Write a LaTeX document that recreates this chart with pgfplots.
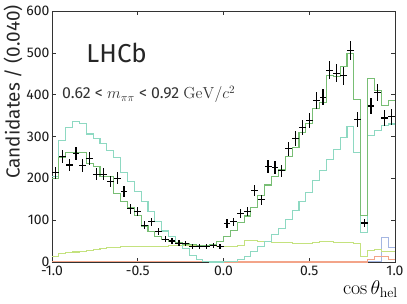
\documentclass[border=0pt]{standalone}
\usepackage{fix-cm}
\usepackage[no-math]{fontspec}
\setmainfont{Fira Sans}
\usepackage{pgfplots}
\pgfplotsset{compat=1.18}
\usepackage{pgfplotstable}
\definecolor{cgreen}{HTML}{78BE74}
\definecolor{ccyan}{HTML}{8ED9C2}
\definecolor{cyel}{HTML}{C4E27E}
\definecolor{cblue}{HTML}{A4B6E2}
\definecolor{cred}{HTML}{F3A489}
\definecolor{frame}{HTML}{333333}

\pgfplotstableread{
x y ey
-0.98 213 14.6
-0.94 252 15.9
-0.90 232 15.2
-0.86 260 16.1
-0.82 230 15.2
-0.78 248 15.7
-0.74 210 14.5
-0.70 210 14.5
-0.66 192 13.9
-0.62 200 14.1
-0.58 168 13.0
-0.54 127 11.3
-0.50 120 11.0
-0.46 88 9.4
-0.42 96 9.8
-0.38 72 8.5
-0.34 54 7.3
-0.30 50 7.1
-0.26 45 6.7
-0.22 44 6.6
-0.18 38 6.2
-0.14 38 6.2
-0.10 37 6.1
-0.06 40 6.3
-0.02 38 6.2
0.02 92 9.6
0.06 96 9.8
0.10 116 10.8
0.14 120 11.0
0.18 170 13.0
0.22 149 12.2
0.26 229 15.1
0.30 226 15.0
0.34 218 14.8
0.38 271 16.5
0.42 295 17.2
0.46 322 17.9
0.50 338 18.4
0.54 386 19.6
0.58 394 19.8
0.62 458 21.4
0.66 451 21.2
0.70 445 21.1
0.74 505 22.5
0.78 341 18.5
0.82 93 9.6
0.86 373 19.3
0.90 405 20.1
0.94 344 18.5
0.98 347 18.6
}\datatab

\pgfplotstableread{
xl green cyan yellow blue red
-1.00 200 205 13 nan 2
-0.96 250 290 20 nan 2
-0.92 262 322 22 nan 2
-0.88 262 336 24 nan 2
-0.84 262 332 26 nan 2
-0.80 236 306 28 nan 2
-0.76 228 296 30 nan 2
-0.72 205 284 32 nan 2
-0.68 204 266 34 nan 2
-0.64 164 250 35 nan 2
-0.60 144 215 36 nan 2
-0.56 130 192 36 nan 2
-0.52 112 168 37 nan 2
-0.48 86 144 37 nan 2
-0.44 72 120 37 nan 2
-0.40 61 96 38 nan 2
-0.36 53 74 38 nan 2
-0.32 49 60 39 nan 2
-0.28 46 45 40 nan 2
-0.24 43 33 40 nan 2
-0.20 41 16 40 nan 2
-0.16 40 6 40 nan 2
-0.12 40 2 39 nan 2
-0.08 42 0 39 nan 1
-0.04 50 0 38 0 1
0.00 62 1 38 1 0
0.04 76 2 38 1 0
0.08 94 5 40 2 0
0.12 110 14 52 2 0
0.16 130 25 52 2 0
0.20 160 37 49 2 0
0.24 184 49 49 2 0
0.28 204 65 47 2 0
0.32 220 81 47 2 0
0.36 252 102 46 1 0
0.40 274 124 45 1 0
0.44 310 144 44 1 0
0.48 332 166 44 1 0
0.52 366 194 47 1 0
0.56 382 218 49 1 0
0.60 445 244 50 1 0
0.64 443 268 47 1 0
0.68 468 298 47 1 0
0.72 498 324 46 1 0
0.76 389 262 45 1 0
0.80 112 70 14 1 0
0.84 438 302 28 1 6
0.88 410 314 29 2 14
0.92 374 326 26 59 14
0.96 386 330 25 35 6
1.00 386 330 25 35 6
}\comptab

\begin{document}
\begin{tikzpicture}
\begin{axis}[
  at={(0,0)}, anchor=south west,
  scale only axis, width=343bp, height=251bp,
  xmin=-1, xmax=1, ymin=0, ymax=600,
  axis line style={frame, line width=0.6pt},
  tick style={frame, line width=0.6pt},
  tick align=inside, major tick length=4bp,
  minor tick num=0,
  xtick={-1,-0.5,0,0.5,1},
  xticklabels={-1.0,-0.5,0.0,0.5,1.0},
  ytick={0,100,200,300,400,500,600},
  yticklabels={0,100,200,300,400,500,600},
  tick label style={font=\fontsize{14}{14}\selectfont, text=black!90},
  xticklabel style={yshift=-1bp},
  yticklabel style={xshift=1bp},
  /pgf/number format/assume math mode=true,
  unbounded coords=jump,
  ylabel={Candidates / (0.040)},
  ylabel style={at={(axis description cs:-0.1137,1.024)}, anchor=east, rotate=0, font=\fontsize{19}{19}\selectfont, text=black!85, inner sep=0pt},
  xlabel={$\cos\theta_{\mathrm{hel}}$},
  xlabel style={at={(axis description cs:1.0087,-0.131)}, anchor=base east, font=\fontsize{20}{20}\selectfont, inner sep=0pt},
  clip=true,
]
\addplot[cblue, line width=1.1pt, const plot] table[x=xl, y=blue] {\comptab};
\addplot[cred, line width=1.1pt, const plot] table[x=xl, y=red] {\comptab};
\addplot[cyel, line width=1.1pt, const plot] table[x=xl, y=yellow] {\comptab};
\addplot[ccyan, line width=1.1pt, const plot] table[x=xl, y=cyan] {\comptab};
\addplot[cgreen, line width=1.1pt, const plot] table[x=xl, y=green] {\comptab};
\addplot[draw=none, mark=none,
  error bars/.cd, x dir=both, x fixed=0.02, y dir=both, y explicit,
  error bar style={black, line width=1.2pt}, error mark=none]
  table[x=x, y=y, y error=ey] {\datatab};
\node[anchor=base west, inner sep=0pt, font=\fontsize{26}{26}\selectfont, text=black!85] at (axis cs:-0.80,478) {LHCb};
\node[anchor=base west, inner sep=0pt, font=\fontsize{16}{16}\selectfont, text=black!80] at (axis cs:-0.942,390) {0.62 < $m_{\pi\pi}$ < 0.92 $\mathrm{GeV}/c^{2}$};
\end{axis}
\pgfresetboundingbox
\path (-52bp,-42bp) rectangle (355bp,262bp);
\end{tikzpicture}
\end{document}
